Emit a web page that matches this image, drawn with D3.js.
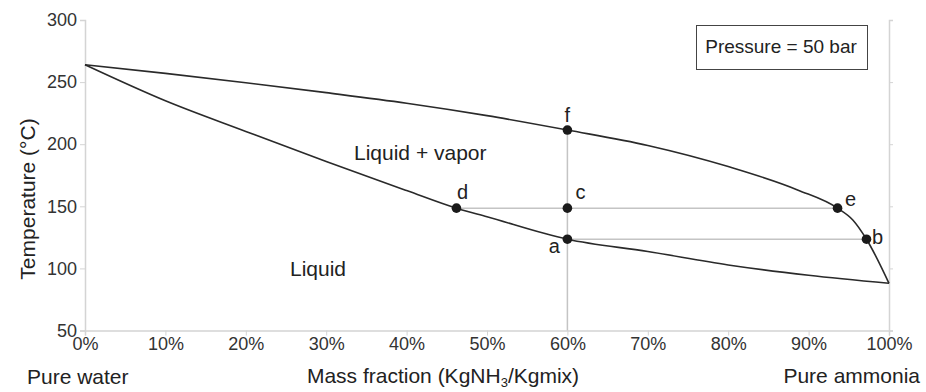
<!DOCTYPE html>
<html>
<head>
<meta charset="utf-8">
<script src="https://cdn.jsdelivr.net/npm/d3@7"></script>
<style>
  html, body { margin: 0; padding: 0; background: #fff; }
  svg { display: block; font-family: "Liberation Sans", Arial, sans-serif; }
</style>
</head>
<body>
<svg id="chart" width="926" height="392"></svg>
<script>
// Ammonia–water phase diagram at 50 bar
const xTicks = [0, 10, 20, 30, 40, 50, 60, 70, 80, 90, 100];
const yTicks = [50, 100, 150, 200, 250, 300];

// Dew-point curve (upper): mass fraction %, temperature °C
const dewX = [0, 10, 20, 30, 40, 50, 60, 70, 80, 88.7, 93.6, 95.5, 97.2, 100];
const dewT = [264, 257, 249.5, 241.5, 233, 223, 211.4, 199, 182, 163, 148.5, 139, 123.5, 88];

// Bubble-point curve (lower)
const bubX = [0, 10, 20, 30, 40, 46.2, 50, 60, 70, 80, 90, 100];
const bubT = [264, 235, 210.3, 186, 162.7, 148.5, 141.6, 123.5, 113.6, 102.8, 94.5, 88];

// Labelled state points
const ptNames = ["f", "d", "c", "e", "a", "b"];
const ptX = [60, 46.2, 60, 93.6, 60, 97.2];
const ptT = [211.4, 148.5, 148.5, 148.5, 123.5, 123.5];

const svg = d3.select("#chart");
const x = d3.scaleLinear().domain([0, 100]).range([85, 889]);
const y = d3.scaleLinear().domain([50, 300]).range([330.5, 20]);

const axisGrey = "#d4d4d4";
const textCol = "#333";
const font = "Liberation Sans, Arial, sans-serif";

// Left axis
const gy = svg.append("g").attr("transform", `translate(${x(0)},0)`)
  .call(d3.axisLeft(y).tickValues(yTicks).tickSize(5).tickPadding(3));
gy.select(".domain").attr("stroke", axisGrey).attr("stroke-width", 1.5);
gy.selectAll(".tick line").attr("stroke", axisGrey);
gy.selectAll(".tick text").attr("font-size", 18).attr("fill", textCol).attr("font-family", font);

// Right axis (ticks only, no labels)
const gr = svg.append("g").attr("transform", `translate(${x(100)},0)`)
  .call(d3.axisRight(y).tickValues(yTicks).tickSize(4).tickFormat(""));
gr.select(".domain").attr("stroke", axisGrey).attr("stroke-width", 1.5);
gr.selectAll(".tick line").attr("stroke", axisGrey);

// Bottom axis
const gx = svg.append("g").attr("transform", `translate(0,${y(50)})`)
  .call(d3.axisBottom(x).tickValues(xTicks).tickSize(5).tickPadding(2).tickFormat(d => d + "%"));
gx.select(".domain").attr("stroke", axisGrey).attr("stroke-width", 1.5);
gx.selectAll(".tick line").attr("stroke", axisGrey);
gx.selectAll(".tick text").attr("font-size", 18).attr("fill", textCol).attr("font-family", font);

// Guide lines through the state points
const guide = svg.append("g").attr("stroke", "#c4c4c4").attr("stroke-width", 1.5);
guide.append("line").attr("x1", x(60)).attr("x2", x(60)).attr("y1", y(50)).attr("y2", y(ptT[0]));
guide.append("line").attr("x1", x(ptX[1])).attr("x2", x(ptX[3])).attr("y1", y(ptT[1])).attr("y2", y(ptT[3]));
guide.append("line").attr("x1", x(ptX[4])).attr("x2", x(ptX[5])).attr("y1", y(ptT[4])).attr("y2", y(ptT[5]));

// Phase boundary curves
const line = d3.line().x(d => x(d[0])).y(d => y(d[1])).curve(d3.curveMonotoneX);
svg.append("path").datum(dewX.map((v, i) => [v, dewT[i]]))
  .attr("d", line).attr("fill", "none").attr("stroke", "#2a2a2a").attr("stroke-width", 1.6);
svg.append("path").datum(bubX.map((v, i) => [v, bubT[i]]))
  .attr("d", line).attr("fill", "none").attr("stroke", "#2a2a2a").attr("stroke-width", 1.6);

// State points
svg.append("g").selectAll("circle").data(ptNames).join("circle")
  .attr("cx", (d, i) => x(ptX[i])).attr("cy", (d, i) => y(ptT[i]))
  .attr("r", 4.8).attr("fill", "#1a1a1a");

// Point labels (offsets from each point)
const lblDx = [0, 6, 13, 13, -13, 11];
const lblDy = [-8, -9, -9, -2, 14, 5];
svg.append("g").selectAll("text").data(ptNames).join("text")
  .attr("x", (d, i) => x(ptX[i]) + lblDx[i]).attr("y", (d, i) => y(ptT[i]) + lblDy[i])
  .attr("text-anchor", "middle").attr("font-size", 20).attr("fill", "#222")
  .text(d => d);

// Region labels
svg.append("text").attr("x", 354).attr("y", 160).attr("font-size", 21).attr("fill", "#222").text("Liquid + vapor");
svg.append("text").attr("x", 290).attr("y", 276).attr("font-size", 21).attr("fill", "#222").text("Liquid");

// Pressure box
svg.append("rect").attr("x", 696.5).attr("y", 25.5).attr("width", 171).attr("height", 44)
  .attr("fill", "#fff").attr("stroke", "#444").attr("stroke-width", 1);
svg.append("text").attr("x", 781).attr("y", 53).attr("text-anchor", "middle")
  .attr("font-size", 19).attr("fill", "#222").text("Pressure = 50 bar");

// Axis titles
svg.append("text").attr("transform", "translate(35,199) rotate(-90)")
  .attr("text-anchor", "middle").attr("font-size", 21).attr("fill", "#222").text("Temperature (°C)");

const xt = svg.append("text").attr("x", 443).attr("y", 383).attr("text-anchor", "middle")
  .attr("font-size", 21).attr("fill", "#222");
xt.append("tspan").text("Mass fraction (KgNH");
xt.append("tspan").attr("font-size", 13).attr("dy", 4).text("3");
xt.append("tspan").attr("dy", -4).text("/Kgmix)");

svg.append("text").attr("x", 27).attr("y", 384).attr("font-size", 21).attr("fill", "#222").text("Pure water");
svg.append("text").attr("x", 920).attr("y", 383).attr("text-anchor", "end")
  .attr("font-size", 21).attr("fill", "#222").text("Pure ammonia");
</script>
</body>
</html>
